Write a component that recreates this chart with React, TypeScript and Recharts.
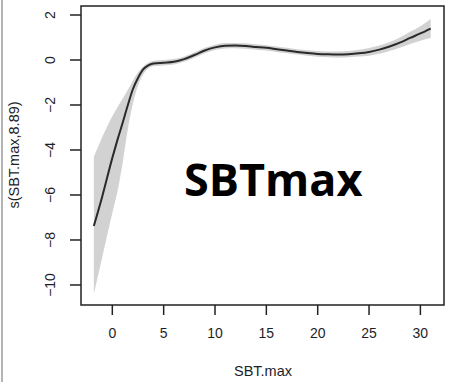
import React from "react";
import {
  ComposedChart,
  Line,
  Area,
  XAxis,
  YAxis,
  ReferenceArea,
} from "recharts";

// Smooth term s(SBT.max, 8.89) with its confidence band
const sbtMax = [-1.8, -1, 0, 0.5, 1, 1.5, 2, 2.5, 3, 3.5, 4, 5, 6, 7, 8, 9, 10, 11, 12, 13, 14, 15, 16, 17, 18, 19, 20, 21, 22, 23, 24, 25, 26, 27, 28, 29, 30, 31];
const fitValues = [-7.38, -6.1, -4.35, -3.55, -2.8, -2.02, -1.3, -0.8, -0.42, -0.24, -0.16, -0.12, -0.08, 0.04, 0.22, 0.42, 0.56, 0.63, 0.64, 0.62, 0.58, 0.54, 0.48, 0.42, 0.36, 0.31, 0.27, 0.25, 0.24, 0.26, 0.3, 0.36, 0.46, 0.6, 0.77, 0.98, 1.18, 1.4];
const upperBand = [-4.3, -3.45, -2.5, -2.1, -1.72, -1.33, -0.93, -0.55, -0.3, -0.12, -0.03, 0.0, 0.04, 0.16, 0.34, 0.54, 0.68, 0.75, 0.76, 0.74, 0.7, 0.66, 0.6, 0.54, 0.48, 0.43, 0.4, 0.38, 0.38, 0.4, 0.45, 0.53, 0.64, 0.8, 1.0, 1.25, 1.5, 1.82];
const lowerBand = [-10.4, -8.8, -6.8, -5.85, -4.6, -3.1, -1.95, -1.15, -0.65, -0.38, -0.28, -0.24, -0.2, -0.08, 0.1, 0.3, 0.44, 0.51, 0.52, 0.5, 0.46, 0.42, 0.36, 0.3, 0.24, 0.19, 0.14, 0.12, 0.1, 0.12, 0.15, 0.19, 0.28, 0.4, 0.54, 0.71, 0.86, 0.98];

const xTicks = [0, 5, 10, 15, 20, 25, 30];
const yTicks = [-10, -8, -6, -4, -2, 0, 2];
const xDomain: [number, number] = [-3.05, 32.3];
const yDomain: [number, number] = [-10.89, 2.4];

const xTitle = "SBT.max";
const yTitle = "s(SBT.max,8.89)";
const panelTitle = "SBTmax";

const data = sbtMax.map((x, i) => ({
  x,
  fit: fitValues[i],
  band: [lowerBand[i], upperBand[i]],
}));

const W = 452;
const H = 382;
const axisFont = "'Liberation Sans', Arial, sans-serif";
const textColor = "#1e1e28";

const fmt = (v: number) => (v < 0 ? "\u2212" + Math.abs(v) : String(v));

const YTick = (props: any) => {
  const { x, y, payload } = props;
  const cx = x - 18;
  return (
    <text
      x={cx}
      y={y}
      transform={`rotate(-90 ${cx} ${y})`}
      textAnchor="middle"
      dominantBaseline="central"
      fontFamily={axisFont}
      fontSize={14}
      fill={textColor}
    >
      {fmt(payload.value)}
    </text>
  );
};

const XTick = (props: any) => {
  const { x, y, payload } = props;
  return (
    <text
      x={x}
      y={y + 21}
      textAnchor="middle"
      fontFamily={axisFont}
      fontSize={14}
      fill={textColor}
    >
      {fmt(payload.value)}
    </text>
  );
};

export default function App() {
  return (
    <div
      style={{
        position: "absolute",
        left: 0,
        top: 0,
        width: W,
        height: H,
        background: "#fff",
        overflow: "hidden",
      }}
    >
      <div
        style={{
          position: "absolute",
          left: 1,
          top: 0,
          width: 2,
          height: H,
          background: "#b4b4b4",
        }}
      />
      <ComposedChart
        width={W}
        height={H}
        data={data}
        margin={{ top: 6, right: 8, bottom: 0, left: 0 }}
      >
        <XAxis
          dataKey="x"
          type="number"
          domain={xDomain}
          ticks={xTicks}
          allowDataOverflow
          height={77}
          tickSize={10}
          axisLine={false}
          tickLine={{ stroke: "#222", strokeWidth: 1.5 }}
          tick={<XTick />}
          interval={0}
        />
        <YAxis
          type="number"
          domain={yDomain}
          ticks={yTicks}
          allowDataOverflow
          width={81}
          tickSize={11}
          axisLine={false}
          tickLine={{ stroke: "#222", strokeWidth: 1.5 }}
          tick={<YTick />}
          interval={0}
        />
        <Area
          dataKey="band"
          type="monotone"
          stroke="none"
          fill="#d2d2d2"
          fillOpacity={1}
          isAnimationActive={false}
          activeDot={false}
        />
        <Line
          dataKey="fit"
          type="monotone"
          stroke="#2a2a2a"
          strokeWidth={2}
          dot={false}
          activeDot={false}
          isAnimationActive={false}
        />
        <ReferenceArea
          x1={xDomain[0]}
          x2={xDomain[1]}
          y1={yDomain[0]}
          y2={yDomain[1]}
          fill="none"
          stroke="#222"
          strokeWidth={1.5}
          ifOverflow="visible"
        />
      </ComposedChart>
      <svg
        width={W}
        height={H}
        style={{ position: "absolute", left: 0, top: 0, pointerEvents: "none" }}
      >
        <text
          x={263}
          y={376}
          textAnchor="middle"
          fontFamily={axisFont}
          fontSize={14.5}
          fill={textColor}
        >
          {xTitle}
        </text>
        <text
          x={14}
          y={155}
          transform="rotate(-90 14 155)"
          textAnchor="middle"
          dominantBaseline="central"
          fontFamily={axisFont}
          fontSize={14.5}
          fill={textColor}
        >
          {yTitle}
        </text>
        <text
          x={184}
          y={196}
          fontFamily="'Open Sans', 'Noto Sans', sans-serif"
          fontWeight={700}
          fontSize={45}
          fill="#000"
        >
          {panelTitle}
        </text>
      </svg>
    </div>
  );
}
